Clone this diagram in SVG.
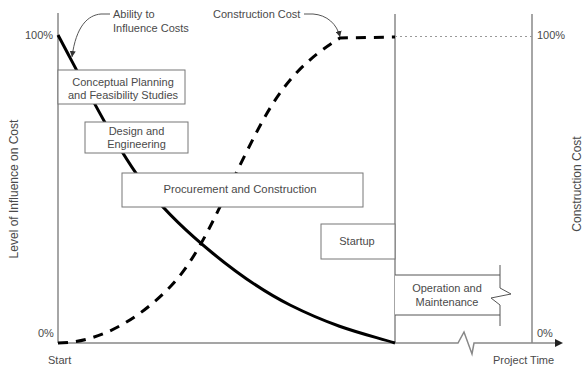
<svg xmlns="http://www.w3.org/2000/svg" width="585" height="367" viewBox="0 0 585 367">
<defs>
<marker id="ah" viewBox="0 0 10 10" refX="10" refY="5" markerWidth="6" markerHeight="6" markerUnits="userSpaceOnUse" orient="auto">
<path d="M0,0 L10,5 L0,10 z" fill="#333"/>
</marker>
<style>
text{font-family:"Liberation Sans",Arial,sans-serif;font-size:11px;fill:#4a4a4a}
.c{text-anchor:middle}
.ax{stroke:#888;stroke-width:1.5;fill:none}
.box{fill:#fff;stroke:#777;stroke-width:1}
.thin{fill:none;stroke:#555;stroke-width:1}
.rot{font-size:12px}
</style>
</defs>
<rect width="585" height="367" fill="#fff"/>
<g id="axes">
<line class="ax" x1="58" y1="13" x2="58" y2="343"/>
<line class="ax" x1="395" y1="14" x2="395" y2="343"/>
<line class="ax" x1="532" y1="14" x2="532" y2="343"/>
<path class="ax" d="M58,343 L458,343 L464,332 L472,354 L474,343 L556,343" stroke="#555"/>
<path d="M555,339 L563,343 L555,347 z" fill="#222"/>
<line x1="395" y1="36.5" x2="532" y2="36.5" stroke="#999" stroke-width="1" stroke-dasharray="2,3"/>
<text x="25" y="39">100%</text>
<text x="38" y="337">0%</text>
<text x="537" y="39">100%</text>
<text x="537" y="337">0%</text>
<text x="48" y="364">Start</text>
<text x="493" y="364">Project Time</text>
<text class="c rot" transform="translate(17.5,189) rotate(-90)">Level of Influence on Cost</text>
<text class="c rot" transform="translate(581,184) rotate(-90)">Construction Cost</text>
</g>
<g id="connectors">
<path id="influence-curve" d="M58,35 C90,95 120,155 150,192 S240,280 290,305 S370,335 395,343" fill="none" stroke="#000" stroke-width="3"/>
<path id="cost-curve" d="M58,343 C100,343 140,318 170,287 S220,205 245,155 S288,70 340,38 L395,37" fill="none" stroke="#000" stroke-width="3" stroke-dasharray="10,8"/>
<path class="thin" d="M110,14 L101,14 C88,15 76,26 72,57" marker-end="url(#ah)"/>
<path class="thin" d="M304,14 L313,14 C327,15 337,24 340,37" marker-end="url(#ah)"/>
<text x="113" y="18">Ability to</text>
<text x="113" y="32">Influence Costs</text>
<text x="213" y="18">Construction Cost</text>
</g>
<g id="conceptual">
<rect class="box" x="58" y="70" width="127" height="34"/>
<text class="c" x="123" y="86">Conceptual Planning</text>
<text class="c" x="123" y="99">and Feasibility Studies</text>
</g>
<g id="design">
<rect class="box" x="85" y="122" width="103" height="31"/>
<text class="c" x="136.5" y="135">Design and</text>
<text class="c" x="136.5" y="148">Engineering</text>
</g>
<g id="procurement">
<rect class="box" x="122" y="173" width="241" height="34"/>
<text class="c" x="240" y="193" style="font-size:11.3px">Procurement and Construction</text>
</g>
<g id="startup">
<rect class="box" x="321" y="224" width="74" height="35"/>
<text class="c" x="357" y="245">Startup</text>
</g>
<g id="operation">
<path d="M395,275 H500 V315 H395 Z" fill="#fff" stroke="none"/>
<path class="thin" stroke="#777" d="M395,275 H500 M395,315 H500 M500,265 V288 L511,294 L491,298 L500,305 V326"/>
<text class="c" x="447" y="292">Operation and</text>
<text class="c" x="447" y="306">Maintenance</text>
</g>
</svg>
